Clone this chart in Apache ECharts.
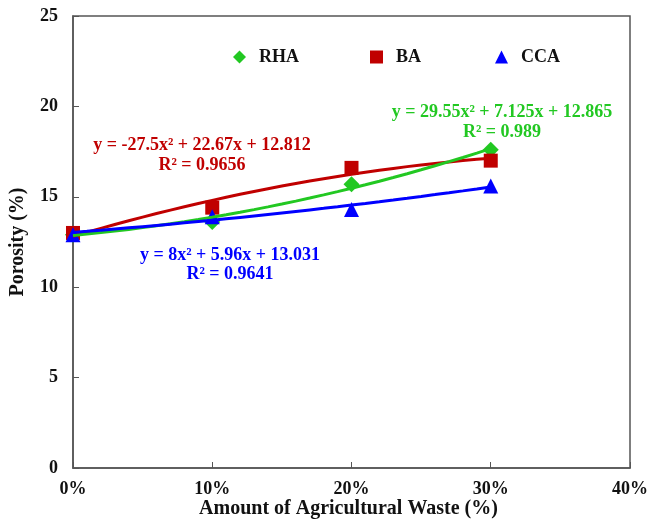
<!DOCTYPE html>
<html>
<head>
<meta charset="utf-8">
<script src="https://cdn.jsdelivr.net/npm/echarts@6/dist/echarts.min.js"></script>
<style>
  html, body { margin: 0; padding: 0; background: #fff; }
  #chart { width: 648px; height: 519px; }
</style>
</head>
<body>
<div id="chart"></div>
<script>
// Waste content (fraction of replacement)
const wasteLevels = [0, 0.1, 0.2, 0.3];

// Measured porosity (%)
const rhaPorosity = [12.9, 13.6, 15.7, 17.6];
const baPorosity = [13.0, 14.4, 16.6, 17.0];
const ccaPorosity = [12.9, 13.9, 14.3, 15.6];

// Quadratic trendline coefficients [a, b, c] for y = a x^2 + b x + c
const rhaFit = [29.55, 7.125, 12.865];
const baFit = [-27.5, 22.67, 12.812];
const ccaFit = [8, 5.96, 13.031];

const xTicks = [0, 0.1, 0.2, 0.3, 0.4];
const yTicks = [0, 5, 10, 15, 20, 25];

const green = '#22c822';
const red = '#c00000';
const blue = '#0000ff';
const serif = '"Liberation Serif", "Times New Roman", serif';

function pairs(xs, ys) { return xs.map((x, i) => [x, ys[i]]); }

function trend(coef) {
  const pts = [];
  for (let i = 0; i <= 30; i++) {
    const x = i / 100;
    pts.push([x, coef[0] * x * x + coef[1] * x + coef[2]]);
  }
  return pts;
}

function eqText(x, y, text, color) {
  return {
    type: 'text', x: x, y: y, z: 10,
    style: { text: text, fontFamily: serif, fontWeight: 'bold', fontSize: 18, fill: color, align: 'center', verticalAlign: 'middle' }
  };
}

const chart = echarts.init(document.getElementById('chart'));

const legendBase = {
  orient: 'horizontal',
  top: 43,
  itemWidth: 13,
  itemHeight: 13,
  textStyle: { fontFamily: serif, fontWeight: 'bold', fontSize: 18, color: '#111', padding: [0, 0, 0, 8] },
  selectedMode: false
};

chart.setOption({
  animation: false,
  backgroundColor: '#fff',
  grid: {
    left: 73, right: 18, top: 16, bottom: 51,
    containLabel: false, outerBoundsMode: 'none',
    show: true, borderColor: '#555', borderWidth: 1.5, backgroundColor: 'transparent'
  },
  legend: [
    Object.assign({}, legendBase, { left: 228, data: ['RHA'] }),
    Object.assign({}, legendBase, { left: 365, data: ['BA'] }),
    Object.assign({}, legendBase, { left: 490, data: ['CCA'] })
  ],
  xAxis: {
    type: 'value',
    min: xTicks[0],
    max: xTicks[xTicks.length - 1],
    interval: 0.1,
    name: 'Amount of Agricultural Waste (%)',
    nameLocation: 'middle',
    nameGap: 31,
    nameMoveOverlap: false,
    nameTextStyle: { fontFamily: serif, fontWeight: 'bold', fontSize: 20, color: '#111', padding: [0, 6, 0, 0] },
    axisLine: { lineStyle: { color: '#555', width: 1.5 } },
    axisTick: { inside: true, length: 6, lineStyle: { color: '#555' } },
    splitLine: { show: false },
    axisLabel: {
      margin: 12,
      fontFamily: serif, fontWeight: 'bold', fontSize: 18, color: '#111',
      formatter: v => Math.round(v * 100) + '%'
    }
  },
  yAxis: {
    type: 'value',
    min: yTicks[0],
    max: yTicks[yTicks.length - 1],
    interval: 5,
    name: 'Porosity (%)',
    nameLocation: 'middle',
    nameGap: 45,
    nameMoveOverlap: false,
    nameTextStyle: { fontFamily: serif, fontWeight: 'bold', fontSize: 20, color: '#111' },
    axisLine: { lineStyle: { color: '#555', width: 1.5 } },
    axisTick: { inside: true, length: 6, lineStyle: { color: '#555' } },
    splitLine: { show: false },
    axisLabel: { margin: 15, fontFamily: serif, fontWeight: 'bold', fontSize: 18, color: '#111' }
  },
  series: [
    { name: 'RHA', type: 'scatter', symbol: 'diamond', symbolSize: 16, itemStyle: { color: green, opacity: 1 }, data: pairs(wasteLevels, rhaPorosity), z: 3 },
    { name: 'BA', type: 'scatter', symbol: 'rect', symbolSize: 14, itemStyle: { color: red, opacity: 1 }, data: pairs(wasteLevels, baPorosity), z: 3 },
    { name: 'CCA', type: 'scatter', symbol: 'triangle', symbolSize: 15, itemStyle: { color: blue, opacity: 1 }, data: pairs(wasteLevels, ccaPorosity), z: 3 },
    { name: 'BA fit', type: 'line', showSymbol: false, lineStyle: { color: red, width: 3 }, data: trend(baFit), z: 4 },
    { name: 'RHA fit', type: 'line', showSymbol: false, lineStyle: { color: green, width: 3 }, data: trend(rhaFit), z: 4 },
    { name: 'CCA fit', type: 'line', showSymbol: false, lineStyle: { color: blue, width: 3 }, data: trend(ccaFit), z: 4 }
  ],
  graphic: [
    eqText(202, 145, 'y = -27.5x² + 22.67x + 12.812', red),
    eqText(202, 165, 'R² = 0.9656', red),
    eqText(230, 255, 'y = 8x² + 5.96x + 13.031', blue),
    eqText(230, 274, 'R² = 0.9641', blue),
    eqText(502, 112, 'y = 29.55x² + 7.125x + 12.865', green),
    eqText(502, 132, 'R² = 0.989', green)
  ]
});
</script>
</body>
</html>
